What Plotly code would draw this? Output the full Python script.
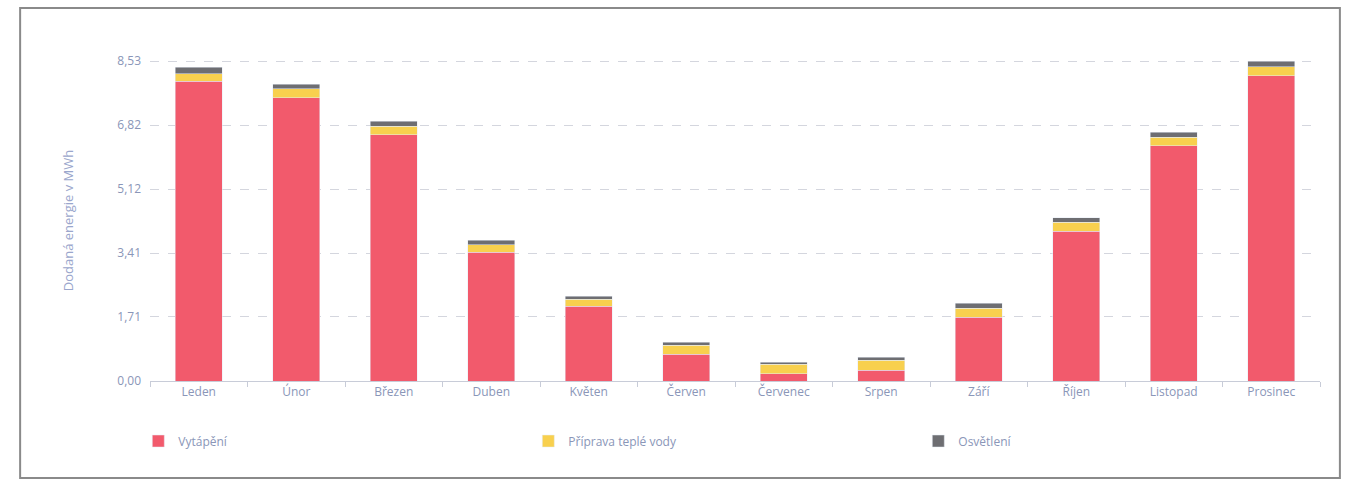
import plotly.graph_objects as go

months = ["Leden", "Únor", "Březen", "Duben", "Květen", "Červen",
          "Červenec", "Srpen", "Září", "Říjen", "Listopad", "Prosinec"]
vytapeni = [8.00, 7.55, 6.57, 3.43, 2.00, 0.72, 0.19, 0.29, 1.70, 3.99, 6.28, 8.14]
tepla_voda = [0.20, 0.25, 0.23, 0.21, 0.18, 0.24, 0.26, 0.27, 0.24, 0.24, 0.22, 0.24]
osvetleni = [0.17, 0.12, 0.13, 0.11, 0.08, 0.08, 0.05, 0.08, 0.13, 0.13, 0.13, 0.15]

tick_vals = [0.0, 1.71, 3.41, 5.12, 6.82, 8.53]
tick_text = ["0,00", "1,71", "3,41", "5,12", "6,82", "8,53"]

fig = go.Figure()
fig.add_bar(x=months, y=vytapeni, name="Vytápění", marker_color="#F25A6C")
fig.add_bar(x=months, y=tepla_voda, name="Příprava teplé vody", marker_color="#F8D04E")
fig.add_bar(x=months, y=osvetleni, name="Osvětlení", marker_color="#6E6E72")

fig.update_layout(
    barmode="stack",
    bargap=0.52,
    width=1348, height=483,
    margin=dict(l=150, r=28, t=60, b=102),
    paper_bgcolor="white", plot_bgcolor="white",
    font=dict(family="Open Sans", size=12, color="#8090B0"),
    legend=dict(orientation="h", x=-0.01, xanchor="left", y=-0.187, yanchor="middle",
                traceorder="normal", entrywidth=345, entrywidthmode="pixels",
                font=dict(size=12, color="#8A96B8")),
    shapes=[dict(type="rect", xref="paper", yref="paper",
                 x0=-0.111, x1=1.017, y0=-0.302, y1=1.162,
                 line=dict(color="#8A8A8A", width=2))],
)
fig.update_yaxes(range=[0, 8.56], tickvals=tick_vals, ticktext=tick_text,
                 showgrid=True, gridcolor="#D4D6DE", griddash="dash", zeroline=False,
                 ticks="", ticklen=0, ticklabelstandoff=8,
                 tickfont=dict(size=12, color="#8A96B8"),
                 title=dict(text="Dodaná energie v MWh", font=dict(size=13, color="#9AA6CC"),
                            standoff=40))
fig.update_xaxes(showline=True, linecolor="#C8CCD8", ticks="outside", tickson="boundaries",
                 tickcolor="#C8CCD8", ticklen=5, tickfont=dict(size=12, color="#8A96B8"))

fig.write_html("out.html")
